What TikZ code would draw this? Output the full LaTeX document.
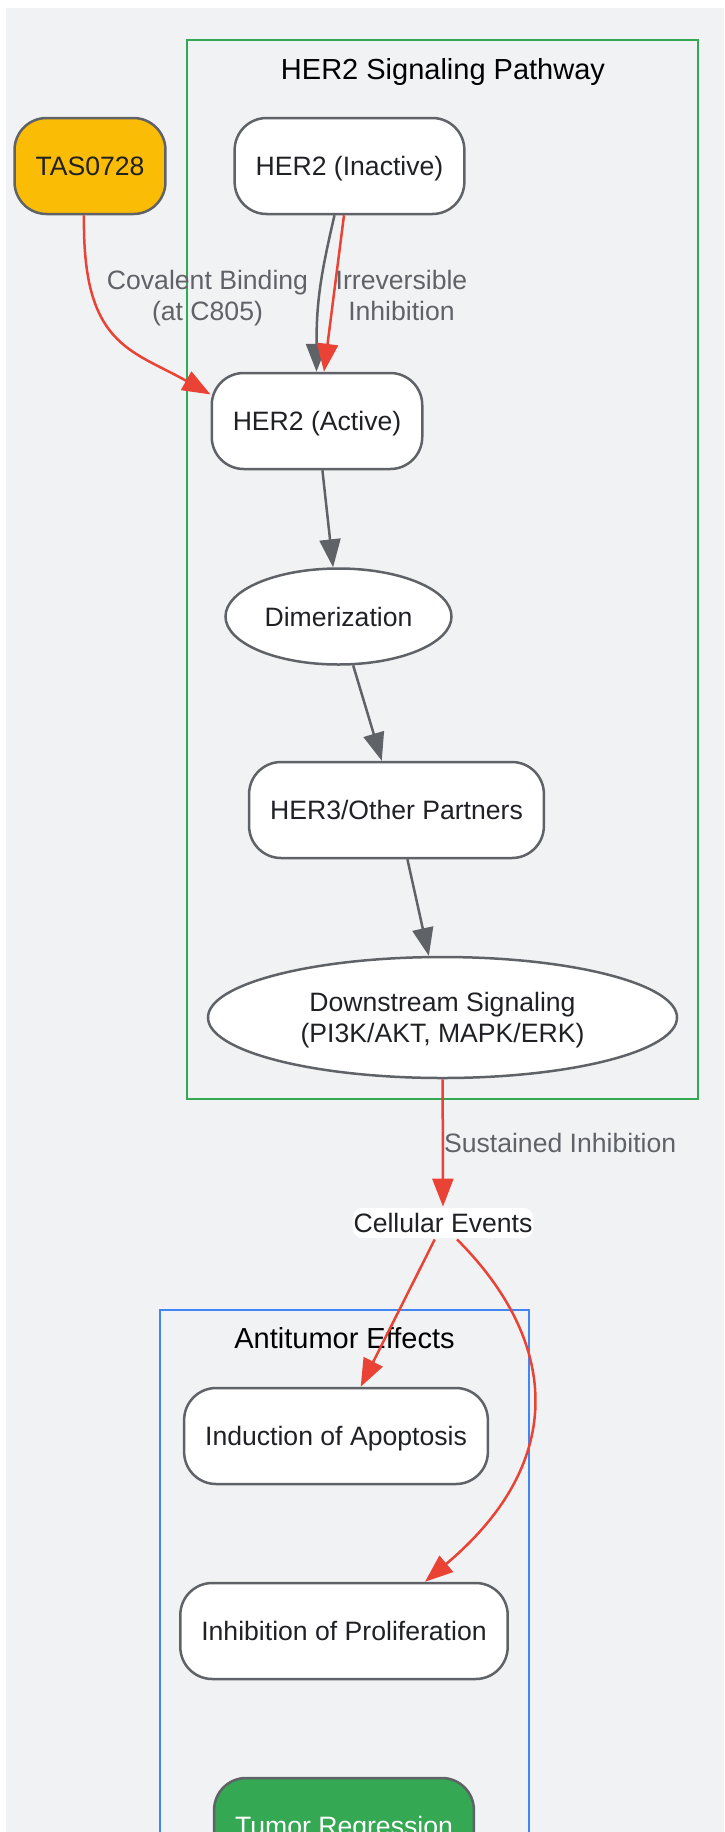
\documentclass[tikz,border=0pt]{standalone}
\usepackage{fontspec}
\setmainfont{Liberation Sans}
\usetikzlibrary{arrows.meta,shapes.geometric}

\definecolor{bggray}{HTML}{F1F2F4}
\definecolor{edgegray}{HTML}{5F6368}
\definecolor{inhibred}{HTML}{EA4335}
\definecolor{pathgreen}{HTML}{34A853}
\definecolor{effectblue}{HTML}{4285F4}
\definecolor{drugyellow}{HTML}{FBBC05}
\definecolor{inkdark}{HTML}{202124}

\begin{document}
\begin{tikzpicture}[x=1pt,y=-1pt,->,>={Triangle[length=28pt,width=21pt]},line width=2.5pt,draw=edgegray]
    \tikzstyle{every node}=[font=\fontsize{26.6}{31}\selectfont,text=inkdark,text depth=0pt]
    \tikzstyle{state}=[rectangle,rounded corners=32pt,draw=edgegray,fill=white,minimum height=96pt,inner xsep=21pt]
    \tikzstyle{blob}=[ellipse,draw=edgegray,fill=white,inner sep=0pt,align=center]
    \tikzstyle{event}=[rectangle,rounded corners=10pt,fill=white,inner xsep=1pt,inner ysep=5.5pt]
    \tikzstyle{lbl}=[text=edgegray,align=center,inner sep=0pt]
    \tikzstyle{cluster}=[-,line width=2.2pt]
    \tikzstyle{clustertitle}=[font=\fontsize{29}{34}\selectfont,text=black]
    % page and backdrop
    \clip (0,0) rectangle (724,1832);
    \fill[bggray] (6,8) rectangle (724,1832);
    % the two groups
    \draw[cluster,pathgreen] (187,40) rectangle (698,1099);
    \node[clustertitle] (pathtitle) at (443,69) {HER2 Signaling Pathway};
    \draw[cluster,effectblue] (160,1310) rectangle (529,1900);
    \node[clustertitle] (effecttitle) at (344.5,1338) {Antitumor Effects};
    % nodes
    \node[state,fill=drugyellow] (tas) at (90,166) {TAS0728};
    \node[state] (inactive) at (349.5,166) {HER2 (Inactive)};
    \node[state] (active) at (317,421) {HER2 (Active)};
    \node[blob,minimum width=226pt,minimum height=96pt] (dimer) at (338.5,616.5) {Dimerization};
    \node[state] (partners) at (396.5,810) {HER3/Other Partners};
    \node[blob,minimum width=469pt,minimum height=121pt] (downstream) at (442.5,1017.5) {Downstream Signaling\\(PI3K/AKT, MAPK/ERK)};
    \node[event] (cellular) at (443,1223) {Cellular Events};
    \node[state] (apoptosis) at (336,1436) {Induction of Apoptosis};
    \node[state] (prolif) at (344,1631) {Inhibition of Proliferation};
    \node[state,fill=pathgreen,text=white] (regress) at (344,1826) {Tumor Regression};
    % edges
    \draw[inhibred] ([xshift=-6pt]tas.south) .. controls +(-2,130) and +(-80,-45) .. (active.166);
    \draw ([xshift=-15pt]inactive.south) .. controls +(-14,60) and +(0,-70) .. ([xshift=-0.5pt]active.north);
    \draw[inhibred] ([xshift=-5.5pt]inactive.south) -- ([xshift=7pt]active.north);
    \draw (active) -- (dimer);
    \draw (dimer) -- (partners);
    \draw (partners) -- (downstream);
    \draw[inhibred] (downstream) -- (cellular) node[lbl,pos=0.5,anchor=west] (sustlbl) {Sustained Inhibition};
    \draw[inhibred] (cellular) -- (apoptosis);
    \draw[inhibred] ([xshift=14pt]cellular.south) .. controls +(100,100) and +(145,-122) .. ([xshift=81pt]prolif.north);
    % edge labels
    \node[lbl] (covlbl) at (207.5,295.5) {Covalent Binding\\(at C805)};
    \node[lbl] (irrlbl) at (401.5,295.5) {Irreversible\\Inhibition};
\end{tikzpicture}
\end{document}
